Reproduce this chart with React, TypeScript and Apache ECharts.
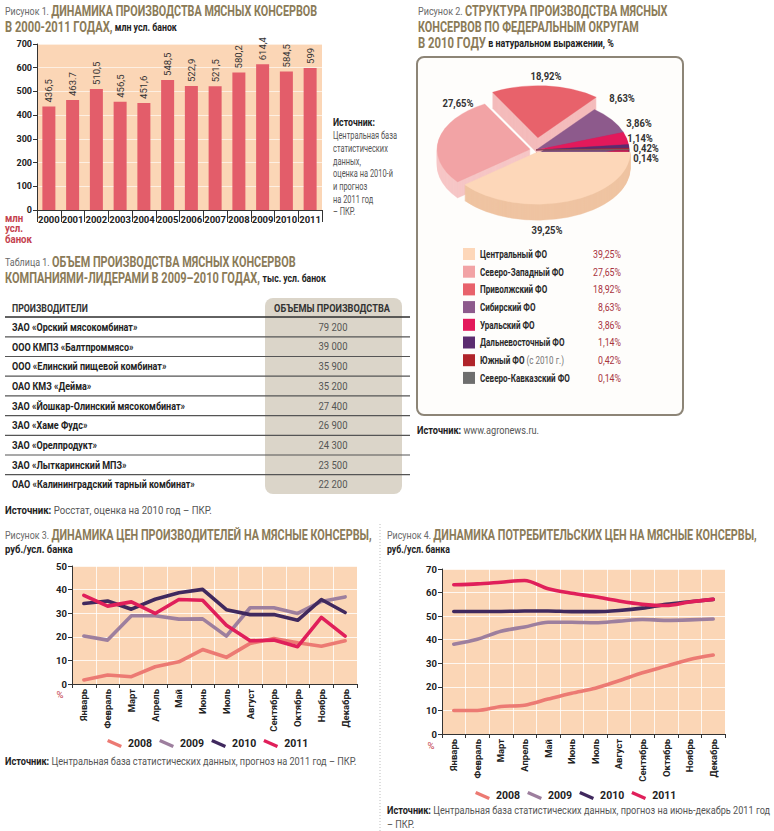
import React, { useEffect, useRef } from 'react';
import * as echarts from 'echarts';

const F = 'Roboto, "Liberation Sans", "DejaVu Sans", sans-serif';

// ---------- Figure 1 data ----------
const years = ['2000', '2001', '2002', '2003', '2004', '2005', '2006', '2007', '2008', '2009', '2010', '2011'];
const production = [436.5, 463.7, 510.5, 456.5, 451.6, 548.5, 522.9, 521.5, 580.2, 614.4, 584.5, 599];
const productionLabels = ['436,5', '463.7', '510,5', '456,5', '451,6', '548,5', '522,9', '521,5', '580,2', '614,4', '584,5', '599'];

// ---------- Figure 2 data ----------
const districts = ['Центральный ФО', 'Северо-Западный ФО', 'Приволжский ФО', 'Сибирский ФО', 'Уральский ФО', 'Дальневосточный ФО', 'Южный ФО', 'Северо-Кавказский ФО'];
const districtShares = [39.25, 27.65, 18.92, 8.63, 3.86, 1.14, 0.42, 0.14];

// ---------- Table 1 data ----------
const producers = [
  'ЗАО «Орский мясокомбинат»',
  'ООО КМПЗ «Балтпроммясо»',
  'ООО «Елинский пищевой комбинат»',
  'ОАО КМЗ «Дейма»',
  'ЗАО «Йошкар-Олинский мясокомбинат»',
  'ЗАО «Хаме Фудс»',
  'ЗАО «Орелпродукт»',
  'ЗАО «Лыткаринский МПЗ»',
  'ОАО «Калининградский тарный комбинат»',
];
const producerVolumes = [79200, 39000, 35900, 35200, 27400, 26900, 24300, 23500, 22200];

// ---------- Figures 3 & 4 data ----------
const months = ['Январь', 'Февраль', 'Март', 'Апрель', 'Май', 'Июнь', 'Июль', 'Август', 'Сентябрь', 'Октябрь', 'Ноябрь', 'Декабрь'];
const seriesYears = ['2008', '2009', '2010', '2011'];
const producerPrice2008 = [1.7, 3.8, 3.1, 7.3, 9.4, 14.6, 11.3, 17.2, 19.3, 17.5, 16.0, 18.3];
const producerPrice2009 = [20.3, 18.6, 28.9, 28.9, 27.5, 27.6, 20.3, 32.3, 32.3, 29.9, 35.0, 36.9];
const producerPrice2010 = [34.1, 35.2, 31.7, 35.9, 38.7, 40.1, 31.5, 29.4, 29.4, 27.0, 35.8, 30.3];
const producerPrice2011 = [37.6, 33.0, 34.8, 29.9, 35.8, 35.5, 24.9, 18.3, 18.6, 15.8, 28.2, 20.3];
const consumerPrice2008 = [10.0, 10.0, 11.7, 12.2, 14.8, 17.3, 19.4, 22.6, 26.0, 28.8, 31.6, 33.5];
const consumerPrice2009 = [38.1, 40.2, 43.6, 45.4, 47.4, 47.4, 47.2, 47.9, 48.6, 48.2, 48.4, 48.8];
const consumerPrice2010 = [52.0, 52.0, 52.0, 52.2, 52.2, 51.9, 51.9, 52.4, 53.4, 55.0, 56.1, 57.1];
const consumerPrice2011 = [63.3, 63.7, 64.4, 65.1, 61.6, 59.7, 58.2, 56.4, 55.0, 54.5, 56.0, 57.1];

// ---------- styles ----------
const TITLE = '#8b7b58';
const PEACH = '#fbd6b6';
const yearColors = ['#ec7a73', '#9d7f9e', '#40295e', '#e01f5a'];
const pieTop = ['#fdd7b9', '#f2a3a5', '#e8626b', '#8d5a8c', '#e3195b', '#5b2c6f', '#b0242a', '#6e6e6e'];
const pieSide = ['#efc4a2', '#f6c7c7', '#f4bcbc', '#74467a', '#c01450', '#45205a', '#8c1a1e', '#8a8a8a'];
const pieExplode = [4, 6, 22, 0, 0, 0, 0, 0];
const PIE = { cx: 536, cy: 150, r: 93, sy: 0.56, depth: 16 };
const pieLabelPos = [[547, 230], [458, 103], [546, 76], [622, 98], [639, 123], [640, 138], [646, 148], [646, 158]];
const LEG_ICON = 'path://M2.8,0.2 L18.8,7.2 L17.2,10.8 L1.2,3.8 Z';

const RICH: any = {
  fig: { fontSize: 11.5, fontWeight: 'normal', color: '#6a6a6a' },
  head: { fontSize: 14, fontWeight: 'bold', color: TITLE },
  unit: { fontSize: 11, fontWeight: 'bold', color: '#222' },
  sb: { fontSize: 11, fontWeight: 'bold', color: '#222' },
  st: { fontSize: 11, fontWeight: 'normal', color: '#555' },
  lb: { fontSize: 11, fontWeight: 'bold', color: '#2a2a2a' },
  lg: { fontSize: 11, fontWeight: 'normal', color: '#777' },
  val: { fontSize: 11, fontWeight: 'normal', color: '#a8333e' },
  pl: { fontSize: 11, fontWeight: 'bold', color: '#333' },
  th: { fontSize: 11, fontWeight: 'bold', color: '#333' },
  tn: { fontSize: 11, fontWeight: 'bold', color: '#222' },
  tv: { fontSize: 11, fontWeight: 'normal', color: '#555' },
  red: { fontSize: 11, fontWeight: 'bold', color: '#c4414d' },
  pct: { fontSize: 9.5, fontWeight: 'normal', color: '#c4414d' },
};
Object.keys(RICH).forEach((k) => {
  RICH[k].fontFamily = F;
  RICH[k].fill = RICH[k].color;
});

let measureCtx: CanvasRenderingContext2D | null = null;
function measure(text: string, key: string) {
  if (!measureCtx) measureCtx = document.createElement('canvas').getContext('2d');
  const s = RICH[key];
  measureCtx!.font = `${s.fontWeight} ${s.fontSize}px ${F}`;
  return measureCtx!.measureText(text).width;
}
type Part = [string, string];
const partsWidth = (parts: Part[]) => parts.reduce((a, [k, t]) => a + measure(t, k), 0);
const scaleFor = (parts: Part[], target: number) => target / partsWidth(parts);

function rt(x: number, y: number, parts: Part[], opt: { target?: number; scale?: number; align?: string } = {}) {
  const s = opt.scale ?? (opt.target ? scaleFor(parts, opt.target) : 1);
  return {
    type: 'text', x, y, scaleX: s, silent: true,
    style: {
      text: parts.map(([k, t]) => `{${k}|${t}}`).join(''),
      rich: RICH, fontFamily: F, verticalAlign: 'middle', align: opt.align || 'left',
    },
  };
}
const hline = (x1: number, x2: number, y: number, stroke: string, lineWidth: number) => ({
  type: 'line', silent: true, shape: { x1, y1: y, x2, y2: y }, style: { stroke, lineWidth },
});

const fmtThousands = (v: number) => String(v).replace(/\B(?=(\d{3})+(?!\d))/g, ' ');
const fmtPct = (v: number) => v.toFixed(2).replace('.', ',') + '%';

const pieStart: number[] = [];
let pieTotal = 0;
districtShares.forEach((v) => { pieStart.push(pieTotal); pieTotal += v; });

function pieRender(side: boolean) {
  return (params: any, api: any) => {
    const i = params.dataIndex;
    const v = api.value(0) as number;
    const a0 = (pieStart[i] / pieTotal) * Math.PI * 2;
    const a1 = a0 + (v / pieTotal) * Math.PI * 2;
    const mid = (a0 + a1) / 2;
    const e = pieExplode[i];
    const ox = e * Math.cos(mid);
    const oy = e * Math.sin(mid);
    const children: any[] = [];
    if (side) {
      for (let k = PIE.depth; k >= 1; k--) {
        children.push({
          type: 'sector', z2: 20 - i,
          shape: { cx: ox, cy: oy + k / PIE.sy, r: PIE.r, r0: 0, startAngle: a0, endAngle: a1, clockwise: true },
          style: { fill: pieSide[i], stroke: pieSide[i], lineWidth: 0.5 },
        });
      }
    } else {
      children.push({
        type: 'sector',
        shape: { cx: ox, cy: oy, r: PIE.r, r0: 0, startAngle: a0, endAngle: a1, clockwise: true },
        style: { fill: pieTop[i], stroke: pieTop[i], lineWidth: 0.4 },
      });
    }
    return { type: 'group', x: PIE.cx, y: PIE.cy, scaleY: PIE.sy, children };
  };
}

function buildGraphics() {
  const g: any[] = [];
  // Figure 1 titles
  g.push(rt(5, 11, [['fig', 'Рисунок 1. '], ['head', 'ДИНАМИКА ПРОИЗВОДСТВА МЯСНЫХ КОНСЕРВОВ']], { target: 312 }));
  g.push(rt(5, 27, [['head', 'В 2000-2011 ГОДАХ,'], ['unit', ' млн усл. банок']], { target: 172 }));
  const redScale = scaleFor([['red', 'банок']], 27);
  ['млн', 'усл.', 'банок'].forEach((t, i) => g.push(rt(5, 218 + i * 10.5, [['red', t]], { scale: redScale })));
  g.push(rt(333, 122, [['sb', 'Источник:']], { target: 42 }));
  const srcScale = scaleFor([['st', 'Центральная база']], 64);
  ['Центральная база', 'статистических', 'данных,', 'оценка на 2010-й', 'и прогноз', 'на 2011 год', '– ПКР.'].forEach((t, i) =>
    g.push(rt(333, 135 + i * 12.7, [['st', t]], { scale: srcScale })));

  // Figure 2
  g.push(rt(418, 11, [['fig', 'Рисунок 2. '], ['head', 'СТРУКТУРА ПРОИЗВОДСТВА МЯСНЫХ']], { target: 250 }));
  g.push(rt(418, 27, [['head', 'КОНСЕРВОВ ПО ФЕДЕРАЛЬНЫМ ОКРУГАМ']], { target: 221 }));
  g.push(rt(418, 43, [['head', 'В 2010 ГОДУ'], ['unit', ' в натуральном выражении, %']], { target: 196 }));
  g.push({
    type: 'rect', silent: true, z: -5,
    shape: { x: 417, y: 57, width: 266, height: 358, r: 7 },
    style: { fill: '#fefdfb', stroke: '#8d8577', lineWidth: 2 },
  });
  const plScale = scaleFor([['pl', '18,92%']], 31);
  districtShares.forEach((v, i) => {
    g.push(rt(pieLabelPos[i][0], pieLabelPos[i][1], [['pl', fmtPct(v)]], { scale: plScale, align: 'center' }));
  });
  const lbScale = scaleFor([['lb', 'Северо-Кавказский ФО']], 90);
  const valScale = scaleFor([['val', '39,25%']], 28);
  districts.forEach((name, i) => {
    const y = 254 + i * 17.7;
    g.push({ type: 'rect', silent: true, shape: { x: 463, y: y - 6, width: 12, height: 12 }, style: { fill: pieTop[i] } });
    if (name === 'Южный ФО') g.push(rt(480, y, [['lb', 'Южный ФО'], ['lg', ' (с 2010 г.)']], { scale: lbScale }));
    else g.push(rt(480, y, [['lb', name]], { scale: lbScale }));
    g.push(rt(621, y, [['val', fmtPct(districtShares[i])]], { scale: valScale, align: 'right' }));
  });
  g.push(rt(417, 430, [['sb', 'Источник:'], ['st', ' www.agronews.ru.']], { target: 122 }));

  // Table 1
  g.push(rt(5, 262, [['fig', 'Таблица 1. '], ['head', 'ОБЪЕМ ПРОИЗВОДСТВА МЯСНЫХ КОНСЕРВОВ']], { target: 291 }));
  g.push(rt(5, 278, [['head', 'КОМПАНИЯМИ-ЛИДЕРАМИ В 2009–2010 ГОДАХ,'], ['unit', ' тыс. усл. банок']], { target: 321 }));
  g.push({
    type: 'rect', silent: true, z: -5,
    shape: { x: 265, y: 298, width: 137, height: 196, r: 8 },
    style: { fill: '#dbd5c9' },
  });
  g.push(rt(12, 308, [['th', 'ПРОИЗВОДИТЕЛИ']], { target: 76 }));
  g.push(rt(332, 308, [['th', 'ОБЪЕМЫ ПРОИЗВОДСТВА']], { target: 116, align: 'center' }));
  g.push(hline(5, 410, 317, '#2e2e2e', 1.6));
  const tnScale = scaleFor([['tn', 'ОАО «Калининградский тарный комбинат»']], 183);
  const tvScale = scaleFor([['tv', '79 200']], 29);
  producers.forEach((name, i) => {
    const y = 327 + i * 19.7;
    g.push(rt(12, y, [['tn', name]], { scale: tnScale }));
    g.push(rt(333, y, [['tv', fmtThousands(producerVolumes[i])]], { scale: tvScale, align: 'center' }));
    if (i < producers.length - 1) g.push(hline(5, 410, y + 9.8, '#555', 1.2));
  });
  g.push(rt(5, 510, [['sb', 'Источник:'], ['st', ' Росстат, оценка на 2010 год – ПКР.']], { target: 207 }));

  // Figure 3
  g.push(rt(5, 535, [['fig', 'Рисунок 3. '], ['head', 'ДИНАМИКА ЦЕН ПРОИЗВОДИТЕЛЕЙ НА МЯСНЫЕ КОНСЕРВЫ,']], { target: 367 }));
  g.push(rt(5, 549, [['unit', 'руб./усл. банка']], { target: 68 }));
  g.push(rt(60, 694, [['pct', '%']], { align: 'center' }));
  g.push(rt(5, 761, [['sb', 'Источник:'], ['st', ' Центральная база статистических данных, прогноз на 2011 год – ПКР.']], { target: 352 }));

  // Figure 4
  g.push(rt(387, 535, [['fig', 'Рисунок 4. '], ['head', 'ДИНАМИКА ПОТРЕБИТЕЛЬСКИХ ЦЕН НА МЯСНЫЕ КОНСЕРВЫ,']], { target: 370 }));
  g.push(rt(387, 549, [['unit', 'руб./усл. банка']], { target: 63 }));
  g.push(rt(431, 745, [['pct', '%']], { align: 'center' }));
  const src4: Part[] = [['sb', 'Источник:'], ['st', ' Центральная база статистических данных, прогноз на июнь-декабрь 2011 год']];
  const src4Scale = scaleFor(src4, 383);
  g.push(rt(387, 810, src4, { scale: src4Scale }));
  g.push(rt(387, 824, [['st', '– ПКР.']], { scale: src4Scale }));

  // separator
  g.push({
    type: 'line', silent: true,
    shape: { x1: 380, y1: 524, x2: 380, y2: 831 },
    style: { stroke: '#bdbdbd', lineWidth: 1, lineDash: [1, 2] },
  });
  return g;
}

const monthAxis = (gridIndex: number) => ({
  gridIndex, type: 'category', data: months, boundaryGap: true,
  axisLine: { lineStyle: { color: '#333', width: 1 } },
  axisTick: { show: true, length: 4, interval: 0, lineStyle: { color: '#333' } },
  axisLabel: { rotate: 90, interval: 0, margin: 5, color: '#222', fontWeight: 'bold', fontSize: 9.5, fontFamily: F },
  splitLine: { show: true, interval: 0, lineStyle: { color: '#ffffff', width: 1, opacity: 0.8 } },
});
const valueAxis = (gridIndex: number, max: number, interval: number) => ({
  gridIndex, type: 'value', min: 0, max, interval,
  axisLine: { show: true, lineStyle: { color: '#333', width: 1 } },
  axisTick: { show: true, length: 4, lineStyle: { color: '#333' } },
  axisLabel: { margin: 5, color: '#222', fontWeight: 'bold', fontSize: 9.5, fontFamily: F },
  splitLine: { show: true, lineStyle: { color: '#ffffff', width: 1, opacity: 0.8 } },
});

function lineSeries(name: string, data: number[], idx: number, axis: number, smooth: number | boolean) {
  return {
    name, type: 'line', xAxisIndex: axis, yAxisIndex: axis, data,
    showSymbol: false, symbol: 'none', smooth,
    color: yearColors[idx],
    lineStyle: { width: 3.6, color: yearColors[idx], cap: 'round', join: 'round' },
    z: 3 + idx,
  };
}

function buildOption(): any {
  const legendBase = {
    data: seriesYears.map((n) => ({ name: n, icon: LEG_ICON })),
    orient: 'horizontal', itemWidth: 17, itemHeight: 9, itemGap: 7, selectedMode: false,
    padding: 0,
    textStyle: { fontFamily: F, fontWeight: 'bold', fontSize: 10.5, color: '#222' },
  };
  return {
    animation: false,
    backgroundColor: '#ffffff',
    textStyle: { fontFamily: F },
    grid: [
      { left: 37, top: 44, width: 285, height: 166, show: true, backgroundColor: PEACH, borderWidth: 0 },
      { left: 72, top: 566, width: 285, height: 118, show: true, backgroundColor: PEACH, borderWidth: 0 },
      { left: 442, top: 569, width: 283, height: 165, show: true, backgroundColor: PEACH, borderWidth: 0 },
    ],
    xAxis: [
      {
        gridIndex: 0, type: 'category', data: years, boundaryGap: true,
        axisLine: { lineStyle: { color: '#333', width: 1 } },
        axisTick: { show: true, length: 12, interval: 0, lineStyle: { color: '#333' } },
        axisLabel: { interval: 0, margin: 4, color: '#222', fontWeight: 'bold', fontSize: 9.5, fontFamily: F },
      },
      monthAxis(1),
      monthAxis(2),
    ],
    yAxis: [
      {
        gridIndex: 0, type: 'value', min: 0, max: 700, interval: 100,
        axisLine: { show: true, lineStyle: { color: '#333', width: 1 } },
        axisTick: { show: true, length: 4, lineStyle: { color: '#333' } },
        axisLabel: { margin: 5, color: '#222', fontWeight: 'bold', fontSize: 9, fontFamily: F },
        splitLine: { show: true, lineStyle: { color: '#ffffff', width: 1, opacity: 0.6 } },
      },
      valueAxis(1, 50, 10),
      valueAxis(2, 70, 10),
    ],
    legend: [
      { ...legendBase, left: 107, top: 738 },
      { ...legendBase, left: 475, top: 790 },
    ],
    series: [
      {
        type: 'bar', xAxisIndex: 0, yAxisIndex: 0, data: production, barWidth: 13,
        itemStyle: { color: '#e35d6a' },
        label: {
          show: true, position: 'top', rotate: 90, align: 'left', verticalAlign: 'middle', distance: 4,
          formatter: (p: any) => productionLabels[p.dataIndex],
          fontFamily: F, fontSize: 9.5, color: '#333',
        },
      },
      { type: 'custom', name: 'pieSide', coordinateSystem: 'none', data: districtShares, renderItem: pieRender(true), z: 1, silent: true },
      { type: 'custom', name: 'pieTop', coordinateSystem: 'none', data: districtShares, renderItem: pieRender(false), z: 2, silent: true },
      lineSeries('2008', producerPrice2008, 0, 1, false),
      lineSeries('2009', producerPrice2009, 1, 1, false),
      lineSeries('2010', producerPrice2010, 2, 1, false),
      lineSeries('2011', producerPrice2011, 3, 1, false),
      lineSeries('2008', consumerPrice2008, 0, 2, 0.3),
      lineSeries('2009', consumerPrice2009, 1, 2, 0.3),
      lineSeries('2010', consumerPrice2010, 2, 2, 0.3),
      lineSeries('2011', consumerPrice2011, 3, 2, 0.3),
    ],
    graphic: { elements: buildGraphics() },
  };
}

export default function App() {
  const ref = useRef<HTMLDivElement>(null);
  useEffect(() => {
    const chart = echarts.init(ref.current!, null, { renderer: 'svg' });
    chart.setOption(buildOption());
    return () => chart.dispose();
  }, []);
  return (
    <div
      ref={ref}
      style={{ position: 'absolute', left: 0, top: 0, width: 774, height: 831, background: '#fff' }}
    />
  );
}
